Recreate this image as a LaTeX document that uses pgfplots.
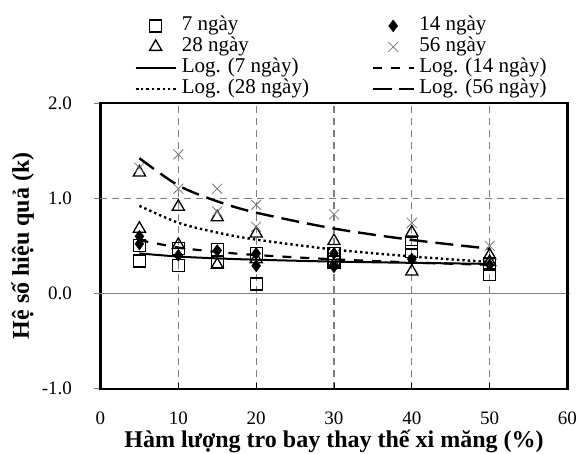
\documentclass[border=0pt]{standalone}
\usepackage{fontspec}
\setmainfont{Liberation Serif}
\usepackage{pgfplots}
\pgfplotsset{compat=1.18}
\definecolor{gridgray}{RGB}{128,128,128}
\definecolor{xgray}{RGB}{120,120,120}
\begin{document}
\begin{tikzpicture}
\path[use as bounding box] (-100.5pt,-65pt) rectangle (478.5pt,388.6pt);
\begin{axis}[
  at={(0,0)}, anchor=south west,
  scale only axis, width=467pt, height=285.6pt,
  xmin=0, xmax=60, ymin=-1, ymax=2,
  xtick={0,10,...,60}, ytick={-1,0,1,2},
  xtick pos=left, ytick pos=left,
  xtick align=inside, ytick align=outside,
  major tick length=6pt,
  xtick style={black, line width=0.8pt},
  ytick style={gridgray, line width=0.8pt},
  axis line style={line width=2.2pt, black},
  xmajorgrids, grid style={gridgray, dashed, dash pattern=on 7pt off 5pt, line width=1.2pt},
  /pgf/number format/assume math mode=true,
  yticklabel style={/pgf/number format/fixed, /pgf/number format/fixed zerofill, /pgf/number format/precision=1, xshift=-19pt},
  tick label style={font=\fontsize{19}{19}\selectfont},
  xticklabel style={yshift=-20pt},
  xlabel={Hàm lượng tro bay thay thế xi măng (\%)},
  ylabel={Hệ số hiệu quả (k)},
  label style={font=\bfseries\fontsize{24}{24}\selectfont},
  xlabel style={yshift=2pt},
  ylabel style={yshift=1pt},
  clip=false,
  legend columns=2,
  legend cell align=left,
  legend image code/.code={\draw[mark repeat=2,mark phase=2] plot coordinates {(0pt,0pt) (20pt,0pt) (40pt,0pt)};},
  legend style={draw=none, fill=none, at={(0.515,1.005)}, anchor=south,
    font=\fontsize{21}{21}\selectfont,
    nodes={inner sep=1pt, text height=14pt, text depth=5pt},
    /tikz/every even column/.append style={column sep=62pt},
    /tikz/every odd column/.append style={column sep=4pt}},
]
% grid lines at y = 1 (dashed) and y = 0 (solid)
\draw[gridgray, dash pattern=on 7pt off 5pt, line width=1.2pt] (axis cs:0,1) -- (axis cs:60,1);
\draw[gridgray, line width=1pt] ([xshift=-6pt]axis cs:0,0) -- ([xshift=3pt]axis cs:60,0);

\addplot[only marks, mark=square, mark size=6pt, black, line width=1.3pt] coordinates {
 (5,0.34) (5,0.50) (10,0.29) (10,0.47) (15,0.33) (15,0.46) (20,0.10) (20,0.42)
 (30,0.42) (30,0.33) (40,0.53) (40,0.44) (50,0.20) (50,0.31)};
\addlegendentry{7 ngày}
\addplot[only marks, mark=diamond*, mark size=6pt, black, mark options={fill=black}] coordinates {
 (5,0.60) (5,0.52) (10,0.40) (15,0.45) (20,0.42) (20,0.29) (30,0.42) (30,0.28) (40,0.36) (50,0.30)};
\addlegendentry{14 ngày}
\addplot[only marks, mark=triangle, mark size=7pt, black, line width=1.3pt] coordinates {
 (5,1.27) (5,0.68) (10,0.91) (10,0.51) (15,0.80) (15,0.30) (20,0.63) (20,0.36)
 (30,0.55) (30,0.30) (40,0.64) (40,0.23) (50,0.40) (50,0.33)};
\addlegendentry{28 ngày}
\addplot[only marks, mark=x, mark size=7pt, xgray, line width=0.8pt] coordinates {
 (5,1.32) (10,1.46) (10,1.10) (15,1.10) (15,0.86) (20,0.93) (20,0.70) (30,0.83) (40,0.74) (50,0.50)};
\addlegendentry{56 ngày}

\addplot[black, line width=2pt, smooth, no marks] coordinates {
 (5,0.420) (10,0.387) (15,0.368) (20,0.354) (30,0.334) (40,0.321) (50,0.310)};
\addlegendentry{Log. (7 ngày)}
\addplot[black, line width=2.2pt, smooth, no marks, dash pattern=on 9pt off 9pt] coordinates {
 (5,0.560) (10,0.482) (15,0.436) (20,0.403) (30,0.358) (40,0.325) (50,0.300)};
\addlegendentry{Log. (14 ngày)}
\addplot[black, line width=2.4pt, smooth, no marks, dash pattern=on 2.4pt off 3pt] coordinates {
 (5,0.920) (10,0.742) (15,0.639) (20,0.565) (30,0.461) (40,0.388) (50,0.330)};
\addlegendentry{Log. (28 ngày)}
\addplot[black, line width=2.4pt, smooth, no marks, dash pattern=on 18pt off 8pt] coordinates {
 (5,1.420) (10,1.134) (15,0.967) (20,0.848) (30,0.681) (40,0.562) (50,0.470)};
\addlegendentry{Log. (56 ngày)}
\draw[black, line width=2.2pt] (axis cs:0,-1) -- (axis cs:60,-1) -- (axis cs:60,2);
\end{axis}
\end{tikzpicture}
\end{document}
